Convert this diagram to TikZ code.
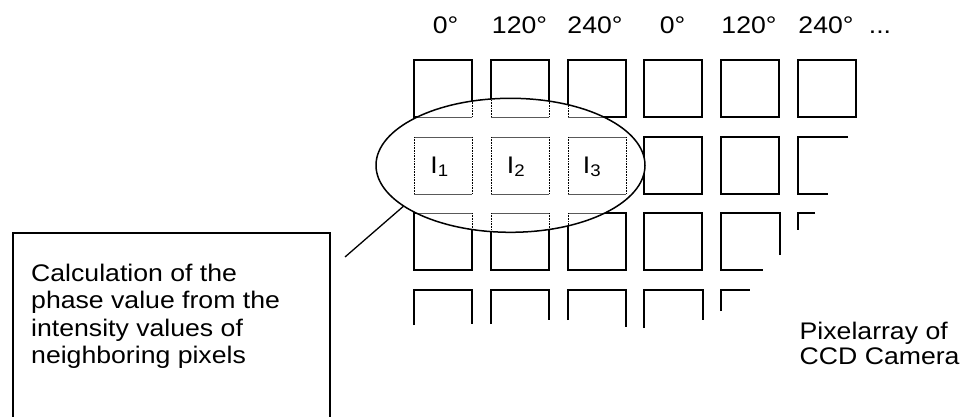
\documentclass[tikz,border=0pt]{standalone}
\usepackage{fontspec}
\setmainfont{Liberation Sans}[FakeStretch=1.11]
\usetikzlibrary{shapes.geometric}
\begin{document}
\begin{tikzpicture}[x=1pt,y=-1pt,
  pix/.style={line width=1.5pt},
  inh/.style={line width=0.9pt,black!65},
  inv/.style={line width=1pt,dash pattern=on 0.8pt off 0.8pt},
  lab/.style={inner sep=0pt,anchor=base,font=\fontsize{24}{27.5}\selectfont},
  txt/.style={inner sep=0pt,align=left,font=\fontsize{24}{27.5}\selectfont}]
\useasboundingbox (0,0) rectangle (961,417);
% full squares
\foreach \l in {414,491,568,644,721,798} \draw[pix] (\l,60) rectangle ++(58,57);
\foreach \l in {414,491,568,644,721} \draw[pix] (\l,137) rectangle ++(58,57);
\foreach \l in {414,491,568,644} \draw[pix] (\l,213) rectangle ++(58,57);
% partial squares
\draw[pix] (848,137) -- (798,137) -- (798,194) -- (828,194);
\draw[pix] (780,255) -- (780,213) -- (721,213) -- (721,270) -- (763,270);
\draw[pix] (815,213) -- (798,213) -- (798,230);
\draw[pix] (414,325) -- (414,290) -- (472,290) -- (472,324);
\draw[pix] (491,324) -- (491,290) -- (549,290) -- (549,320);
\draw[pix] (568,320) -- (568,290) -- (626,290) -- (626,327);
\draw[pix] (644,328) -- (644,290) -- (703,290) -- (703,320);
\draw[pix] (721,311) -- (721,290) -- (750,290);
% inside ellipse
\fill[white] (510.5,165.3) ellipse [x radius=134.5pt, y radius=67pt];
\begin{scope}
\clip (510.5,165.3) ellipse [x radius=134.5pt, y radius=67pt];
\foreach \l in {414,491,568,644} {
  \foreach \t in {60,137,213} {
    \draw[inh] (\l,\t) -- ++(58,0);
    \draw[inh] (\l,\t+57) -- ++(58,0);
    \draw[inv] (\l,\t) -- ++(0,57);
    \draw[inv] (\l+58,\t) -- ++(0,57);
  }
}
\end{scope}
\node[draw,ellipse,line width=1.5pt,minimum width=269pt,minimum height=134pt,inner sep=0pt] (ell) at (510.5,165.3) {};
% labels in pixels
\node[lab] (i1) at (439.5,173) {I\textsubscript{1}};
\node[lab] (i2) at (516,173) {I\textsubscript{2}};
\node[lab] (i3) at (592,173) {I\textsubscript{3}};
% phase labels
\node[lab] (p1) at (445.5,34) {0°};
\node[lab] (p2) at (519.5,34) {120°};
\node[lab] (p3) at (595,34) {240°};
\node[lab] (p4) at (672.5,34) {0°};
\node[lab] (p5) at (749,34) {120°};
\node[lab] (p6) at (826,34) {240°};
\node[lab] (p7) at (880,34) {...};
% box
\node[draw,line width=1.5pt,anchor=north west,minimum width=317pt,minimum height=220pt,inner sep=0pt] (box) at (12,232) {};
\node[txt,anchor=base west] (boxtext) at (31,363.5) {Calculation of the\\phase value from the\\intensity values of\\neighboring pixels};
\coordinate (lend) at (345,257);
\draw[line width=1.3pt] (ell.201) -- (lend);
% caption
\node[txt,anchor=base west,font=\fontsize{24}{24.5}\selectfont] (cap) at (799.5,364) {Pixelarray of\\CCD Camera};
\end{tikzpicture}
\end{document}
